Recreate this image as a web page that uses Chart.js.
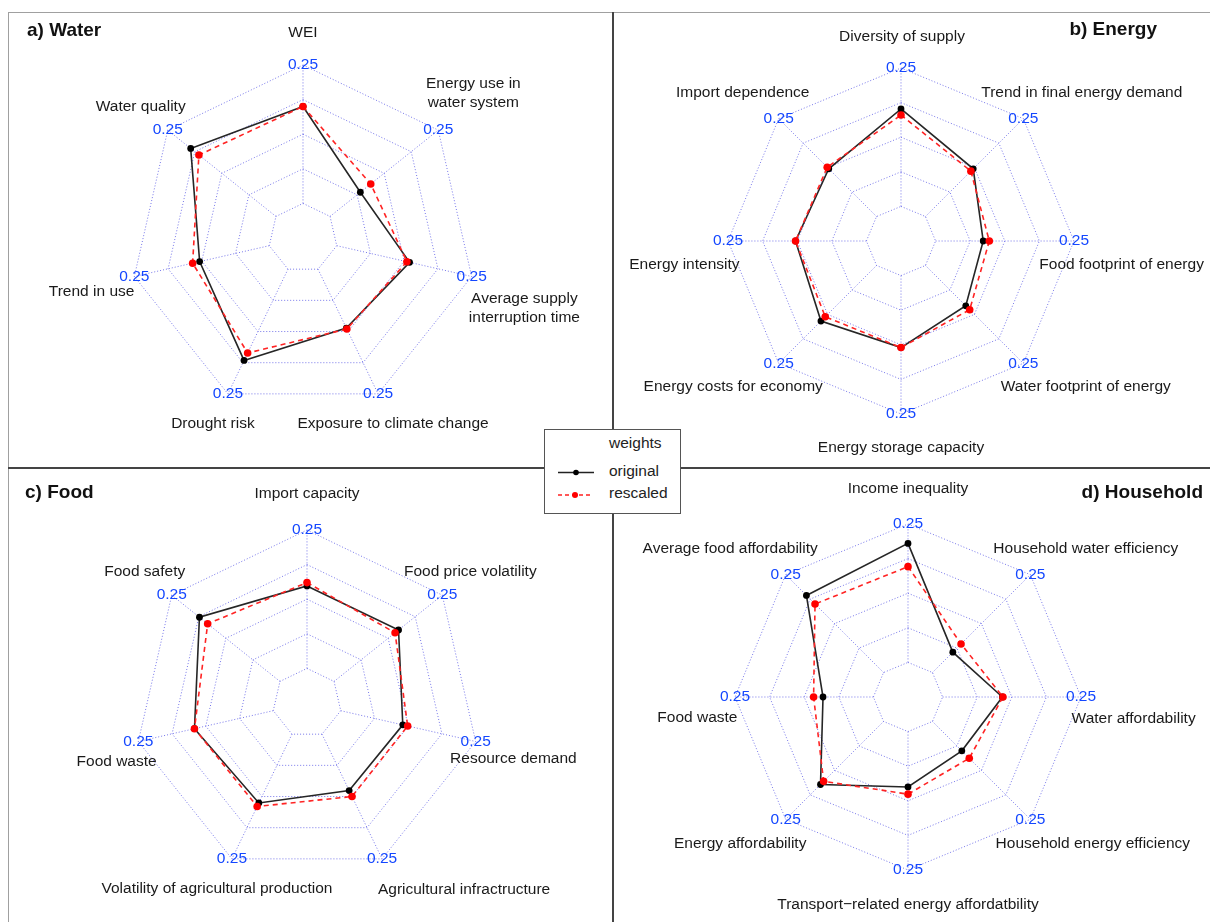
<!DOCTYPE html>
<html>
<head>
<meta charset="utf-8">
<script src="https://cdn.jsdelivr.net/npm/chart.js@4.4.1/dist/chart.umd.min.js"></script>
<style>
html,body{margin:0;padding:0;background:#fff;}
#page{position:relative;width:1210px;height:922px;overflow:hidden;font-family:"Liberation Sans",Arial,sans-serif;}
canvas.radar{position:absolute;left:0;top:0;}
.rule{position:absolute;}
.title{position:absolute;font-weight:bold;font-size:19px;line-height:22px;color:#111;white-space:nowrap;}
#legend{position:absolute;left:544px;top:429px;width:135px;height:83px;border:1px solid #555;background:#fff;font-size:15.5px;color:#222;}
#legend span{position:absolute;line-height:18px;white-space:nowrap;}
#legend svg{position:absolute;left:0;top:0;}
</style>
</head>
<body>
<div id="page">
  <div class="rule" style="left:8px;top:12px;width:1202px;height:1px;background:#a0a0a0;"></div>
  <div class="rule" style="left:8px;top:12px;width:1px;height:910px;background:#a0a0a0;"></div>
  <div class="rule" style="left:612px;top:12px;width:2px;height:910px;background:#444;"></div>
  <div class="rule" style="left:8px;top:467px;width:1202px;height:2px;background:#444;"></div>

  <canvas class="radar" id="cWater" width="1210" height="922"></canvas>
  <canvas class="radar" id="cEnergy" width="1210" height="922"></canvas>
  <canvas class="radar" id="cFood" width="1210" height="922"></canvas>
  <canvas class="radar" id="cHousehold" width="1210" height="922"></canvas>

  <div class="title" style="left:27px;top:19px;">a) Water</div>
  <div class="title" style="right:53px;top:18px;">b) Energy</div>
  <div class="title" style="left:25px;top:481px;">c) Food</div>
  <div class="title" style="right:7px;top:481px;">d) Household</div>

  <div id="legend">
    <svg width="135" height="83">
      <line x1="13" y1="42.5" x2="49" y2="42.5" stroke="#222" stroke-width="1.5"/>
      <circle cx="31" cy="42.5" r="2.8" fill="#000"/>
      <line x1="13" y1="65" x2="46" y2="65" stroke="#ff2020" stroke-width="1.5" stroke-dasharray="4,3"/>
      <circle cx="30" cy="65" r="3" fill="#ff0000"/>
    </svg>
    <span style="left:64px;top:4px;">weights</span>
    <span style="left:64px;top:32px;">original</span>
    <span style="left:64px;top:54px;">rescaled</span>
  </div>
</div>

<script>
// ---------------- data ----------------
const waterLabels = ["WEI", ["Energy use in", "water system"], ["Average supply", "interruption time"],
  "Exposure to climate change", "Drought risk", "Trend in use", "Water quality"];
const waterOriginal = [0.175, 0.070, 0.135, 0.118, 0.183, 0.129, 0.197];
const waterRescaled = [0.175, 0.094, 0.130, 0.120, 0.168, 0.142, 0.178];

const energyLabels = ["Diversity of supply", "Trend in final energy demand", "Food footprint of energy",
  "Water footprint of energy", "Energy storage capacity", "Energy costs for economy",
  "Energy intensity", "Import dependence"];
const energyOriginal = [0.176, 0.122, 0.086, 0.103, 0.130, 0.142, 0.128, 0.122];
const energyRescaled = [0.165, 0.116, 0.097, 0.113, 0.130, 0.131, 0.128, 0.126];

const foodLabels = ["Import capacity", "Food price volatility", "Resource demand",
  "Agricultural infractructure", "Volatility of agricultural production", "Food waste", "Food safety"];
const foodOriginal = [0.149, 0.149, 0.115, 0.113, 0.138, 0.146, 0.186];
const foodRescaled = [0.155, 0.141, 0.124, 0.125, 0.145, 0.146, 0.167];

const householdLabels = ["Income inequality", "Household water efficiency", "Water affordability",
  "Household energy efficiency", "Transport\u2212related energy affordatbility", "Energy affordability",
  "Food waste", "Average food affordability"];
const householdOriginal = [0.215, 0.052, 0.108, 0.075, 0.100, 0.161, 0.091, 0.197];
const householdRescaled = [0.173, 0.073, 0.109, 0.094, 0.113, 0.153, 0.108, 0.175];

const seriesNames = ["original", "rescaled"];
const axisMaxLabel = "0.25";
const axisMax = 0.25;
const axisMin = 0;
const segments = 4;

// ---------------- layout / style ----------------
const W = 1210, H = 922;
const gridColor = "rgba(95,95,230,0.85)";
const blue = "#1447ff";
const textColor = "#1a1a1a";
const labelFont = '15.5px "Liberation Sans", Arial, sans-serif';
const lineH = 19;

const panels = [
  {canvas: "cWater", cx: 303, cy: 238.5, R: 173, labels: waterLabels, orig: waterOriginal, resc: waterRescaled,
   nudge: [[0,2.5],[8,-15],[19,24],[0,-1.5],[0,-1.5],[-9,7.6],[0,-1.5]]},
  {canvas: "cEnergy", cx: 901, cy: 241, R: 173, labels: energyLabels, orig: energyOriginal, resc: energyRescaled,
   nudge: [[1,3],[34,-1.5],[13,24],[38,-1],[0,-1],[-21,-1],[-9,24],[-11.5,-1.5]]},
  {canvas: "cFood", cx: 307, cy: 703, R: 173, labels: foodLabels, orig: foodOriginal, resc: foodRescaled,
   nudge: [[0,-2],[1,-2],[4,10],[67,0],[0,-1],[12,13],[0,-2]]},
  {canvas: "cHousehold", cx: 908.5, cy: 697.5, R: 173, labels: householdLabels, orig: householdOriginal, resc: householdRescaled,
   nudge: [[0,-1],[31,-1],[18,22],[38,0],[0,0],[-21,0],[-3,21],[-31,-1]]}
];

// value at the centre of the web (fmsb-style hole of one segment)
const step = (axisMax - axisMin) / segments;
const scaleMin = axisMin - step;

const spokesPlugin = {
  id: "spokes",
  beforeDatasetsDraw(chart) {
    const s = chart.scales.r, ctx = chart.ctx;
    ctx.save();
    ctx.strokeStyle = gridColor;
    ctx.lineWidth = 1;
    ctx.setLineDash([1, 2]);
    for (let i = 0; i < chart.data.labels.length; i++) {
      const a = s.getPointPositionForValue(i, axisMin);
      const b = s.getPointPositionForValue(i, axisMax);
      ctx.beginPath();
      ctx.moveTo(a.x, a.y);
      ctx.lineTo(b.x, b.y);
      ctx.stroke();
    }
    ctx.restore();
  }
};

function makeLabelsPlugin(nudge) {
  return {
    id: "axisText",
    afterDraw(chart) {
      const s = chart.scales.r, ctx = chart.ctx;
      ctx.save();
      ctx.font = labelFont;
      ctx.textAlign = "center";
      ctx.textBaseline = "middle";
      chart.data.labels.forEach((lbl, i) => {
        const p = s.getPointPosition(i, s.drawingArea * 1.2);
        const lines = Array.isArray(lbl) ? lbl : [lbl];
        const x = p.x + nudge[i][0];
        const y0 = p.y + nudge[i][1] - (lines.length - 1) * lineH / 2;
        ctx.fillStyle = textColor;
        lines.forEach((t, k) => ctx.fillText(t, x, y0 + k * lineH));
        const q = s.getPointPositionForValue(i, axisMax);
        ctx.fillStyle = blue;
        ctx.fillText(axisMaxLabel, q.x, q.y);
      });
      ctx.restore();
    }
  };
}

panels.forEach(p => {
  new Chart(document.getElementById(p.canvas), {
    type: "radar",
    data: {
      labels: p.labels,
      datasets: [
        {label: seriesNames[0], data: p.orig, borderColor: "#262626", borderWidth: 1.6,
         pointBackgroundColor: "#000", pointBorderColor: "#000", pointRadius: 3.4, pointBorderWidth: 0,
         fill: false, order: 2},
        {label: seriesNames[1], data: p.resc, borderColor: "#ff2424", borderWidth: 1.6, borderDash: [5, 4],
         pointBackgroundColor: "#ff0000", pointBorderColor: "#ff0000", pointRadius: 3.8, pointBorderWidth: 0,
         fill: false, order: 1}
      ]
    },
    options: {
      responsive: false,
      animation: false,
      events: [],
      layout: {padding: {left: p.cx - p.R, top: p.cy - p.R, right: W - (p.cx + p.R), bottom: H - (p.cy + p.R)}},
      plugins: {legend: {display: false}, tooltip: {enabled: false}},
      elements: {line: {tension: 0}},
      scales: {
        r: {
          min: scaleMin, max: axisMax,
          ticks: {display: false, stepSize: step},
          pointLabels: {display: false},
          angleLines: {display: false},
          grid: {color: gridColor, lineWidth: 1, circular: false},
          border: {dash: [1, 2]}
        }
      }
    },
    plugins: [spokesPlugin, makeLabelsPlugin(p.nudge)]
  });
});
</script>
</body>
</html>
